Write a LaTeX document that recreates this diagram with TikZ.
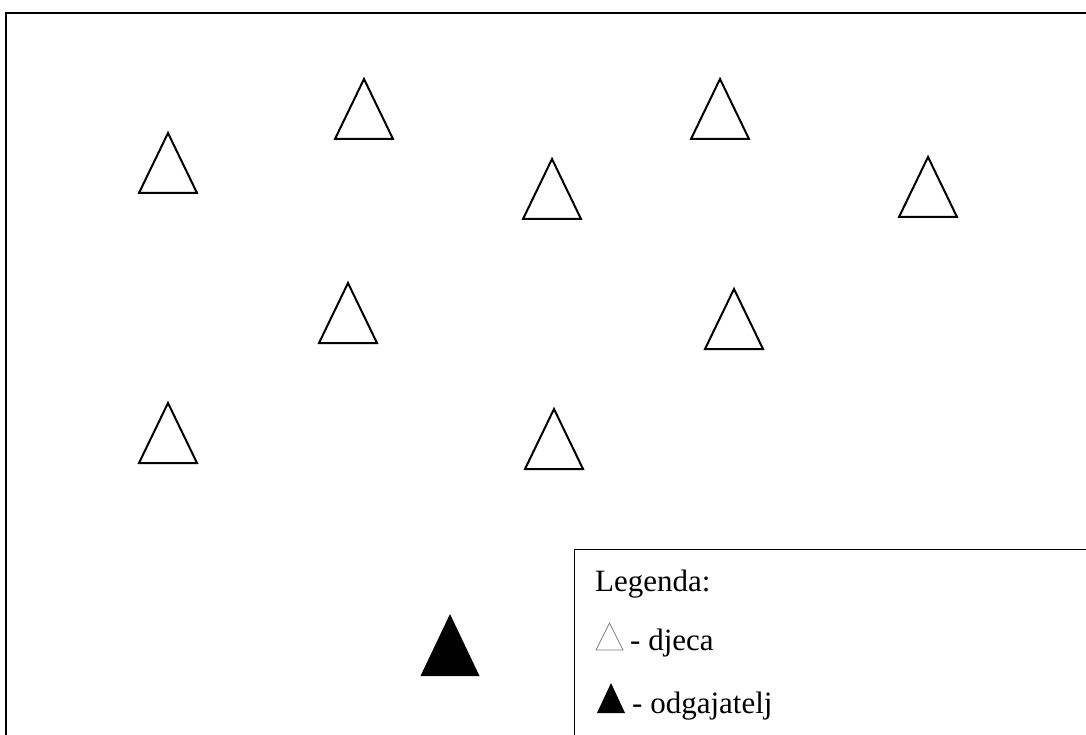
\documentclass[tikz,border=0pt]{standalone}
\usepackage{fontspec}
\setmainfont{Liberation Serif}
\begin{document}
\begin{tikzpicture}[x=1pt,y=-1pt,
  kid/.pic={\draw[line width=2pt,line join=miter] (-29,0) -- (0,-60) -- (29,0) -- cycle;},
  teacher/.pic={\fill[black] (-29.5,0) -- (0,-62) -- (29.5,0) -- cycle;},
  legtext/.style={anchor=base west,inner sep=0pt,font=\fontsize{31}{37}\selectfont}]
\useasboundingbox (0,0) rectangle (1086,735);
\fill[white] (0,0) rectangle (1086,735);
% outer frame
\draw[line width=2pt] (6,13) rectangle (1100,760);
% children
\pic at (168,193) {kid};
\pic at (364,139) {kid};
\pic at (720,139) {kid};
\pic at (552,219) {kid};
\pic at (928,217) {kid};
\pic at (348,343) {kid};
\pic at (734,349) {kid};
\pic at (168,463) {kid};
\pic at (554,469) {kid};
% teacher
\pic at (450,676) {teacher};
% legend
\draw[line width=1pt] (574,549) rectangle (1100,760);
\node[legtext] (lt) at (595,591) {Legenda:};
\draw[gray,line width=0.8pt] (596,650) -- (609.5,623) -- (623,650) -- cycle;
\node[legtext] (ld) at (630,650) {- djeca};
\fill[black] (597,713) -- (611,683) -- (625,713) -- cycle;
\node[legtext] (lo) at (632,713) {- odgajatelj};
\end{tikzpicture}
\end{document}
